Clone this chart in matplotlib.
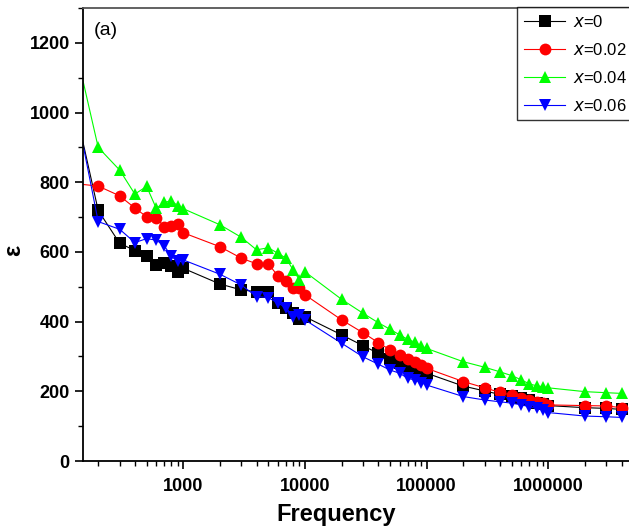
import numpy as np
import matplotlib.pyplot as plt
from matplotlib.ticker import FixedLocator, NullFormatter, MultipleLocator

plt.rcParams['font.family'] = ['Liberation Sans', 'DejaVu Sans']

# frequencies (Hz)
freq = [100, 200, 300, 400, 500, 600, 700, 800, 900,
        1e3, 2e3, 3e3, 4e3, 5e3, 6e3, 7e3, 8e3, 9e3,
        1e4, 2e4, 3e4, 4e4, 5e4, 6e4, 7e4, 8e4, 9e4,
        1e5, 2e5, 3e5, 4e5, 5e5, 6e5, 7e5, 8e5, 9e5,
        1e6, 2e6, 3e6, 4e6]

eps_x0 = [1190, 719, 625, 604, 589, 563, 568, 560, 541,
          553, 508, 491, 486, 486, 453, 438, 424, 407,
          414, 362, 331, 309, 293, 282, 273, 266, 258,
          252, 215, 201, 191, 187, 180, 175, 167, 164,
          159, 153, 151, 148]
eps_x002 = [800, 789, 761, 726, 701, 698, 672, 674, 680,
            655, 615, 582, 566, 566, 531, 517, 496, 497,
            477, 405, 368, 340, 319, 304, 292, 283, 276,
            266, 228, 210, 197, 189, 182, 175, 170, 166,
            161, 159, 158, 153]
eps_x004 = [1360, 900, 835, 766, 788, 725, 743, 746, 733,
            724, 678, 642, 606, 612, 596, 582, 548, 520,
            543, 464, 424, 397, 378, 362, 349, 341, 330,
            323, 285, 269, 256, 245, 233, 221, 216, 213,
            210, 199, 196, 194]
eps_x006 = [1220, 687, 665, 627, 638, 634, 617, 587, 573,
            577, 536, 505, 472, 469, 453, 440, 414, 419,
            405, 338, 299, 278, 261, 252, 237, 233, 225,
            218, 185, 175, 170, 166, 161, 156, 151, 146,
            139, 129, 127, 125]

labels = ['$\\mathit{x}$=0', '$\\mathit{x}$=0.02', '$\\mathit{x}$=0.04', '$\\mathit{x}$=0.06']

fig = plt.figure(figsize=(6.29, 5.31), dpi=100)
# axes wider than the figure: the original picture is cropped on the right
ax = fig.add_axes([83 / 629, 70 / 531, 587 / 629, 453 / 531])

series = [
    (eps_x0, 'black', 's'),
    (eps_x002, 'red', 'o'),
    (eps_x004, '#00ff00', '^'),
    (eps_x006, 'blue', 'v'),
]
for (vals, col, mk), lab in zip(series, labels):
    ax.plot(freq, vals, color=col, marker=mk, markersize=8.5, lw=0.8,
            markeredgewidth=0, label=lab, clip_on=True)

ax.set_xscale('log')
ax.set_xlim(150, 1e7)
ax.set_ylim(0, 1300)

ax.xaxis.set_major_locator(FixedLocator([1e3, 1e4, 1e5, 1e6]))
ax.set_xticklabels(['1000', '10000', '100000', '1000000'])
ax.xaxis.set_minor_locator(FixedLocator(
    [m * 10 ** e for e in range(2, 7) for m in range(2, 10)]))
ax.xaxis.set_minor_formatter(NullFormatter())
ax.yaxis.set_major_locator(MultipleLocator(200))
ax.yaxis.set_minor_locator(MultipleLocator(100))

ax.tick_params(which='major', direction='out', length=6, width=1.2,
               labelsize=13)
ax.tick_params(axis='x', which='major', pad=6)
ax.tick_params(which='minor', direction='out', length=3.5, width=1.0)
for lbl in ax.get_xticklabels() + ax.get_yticklabels():
    lbl.set_fontweight('bold')
for sp in ax.spines.values():
    sp.set_linewidth(1.3)
ax.spines['top'].set_color('#555555')

ax.set_xlabel('Frequency', fontsize=17, fontweight='bold')
ax.xaxis.set_label_coords(0.431, -0.093)
ax.set_ylabel('ε', fontsize=17, fontweight='bold')
ax.yaxis.set_label_coords(-0.098, 0.466)

ax.text(94 / 629, 1 - 31 / 531, '(a)', transform=fig.transFigure,
        fontsize=14, va='center', ha='left')

# legend box runs past the right edge, as in the cropped original
leg = ax.legend(loc='upper left', bbox_to_anchor=(517 / 629, 1 - 7 / 531),
                bbox_transform=fig.transFigure, fontsize=12, frameon=True,
                fancybox=False, edgecolor='black', handlelength=2.5,
                borderpad=0.4, labelspacing=0.72, handletextpad=0.45,
                borderaxespad=0)
leg.get_frame().set_linewidth(1.0)

fig.savefig('out.png', dpi=100)
